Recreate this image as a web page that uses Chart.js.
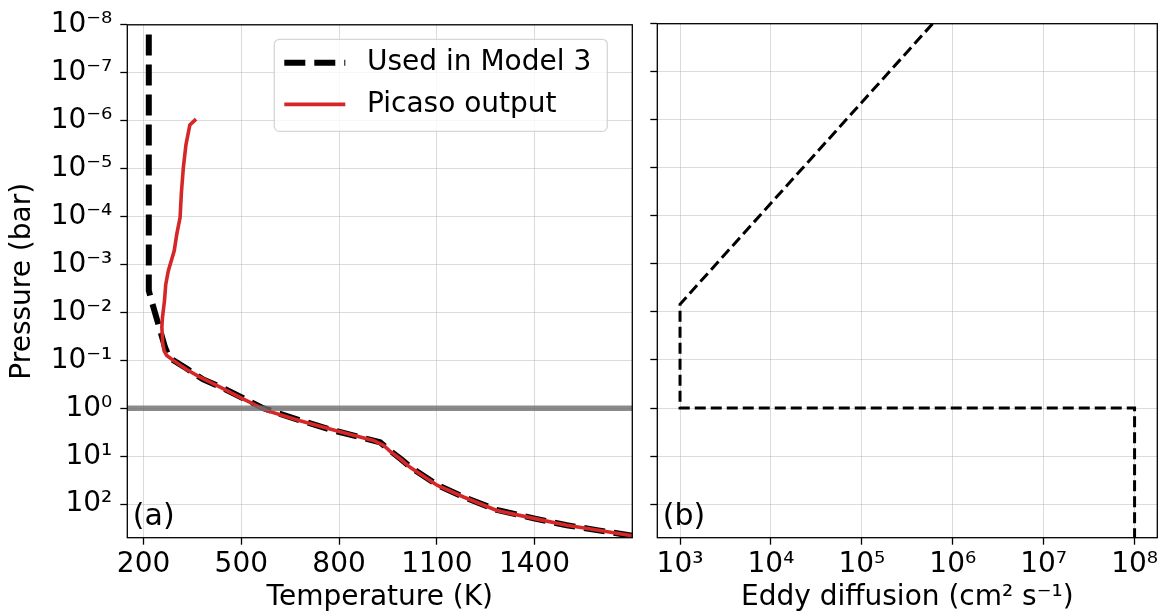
<!DOCTYPE html>
<html>
<head>
<meta charset="utf-8">
<script src="https://cdn.jsdelivr.net/npm/chart.js@4"></script>
<style>
  body { margin: 0; background: #fff; }
  #wrap { position: relative; width: 1168px; height: 615px; }
  .panel { position: absolute; top: 0; height: 615px; }
  #pa { left: 0; width: 645px; }
  #pb { left: 645px; width: 523px; }
</style>
</head>
<body>
<div id="wrap">
  <div class="panel" id="pa"><canvas id="chartTemp"></canvas></div>
  <div class="panel" id="pb"><canvas id="chartKzz"></canvas></div>
</div>
<script>
// (a) temperature profiles, pressure in bar
const modelTemp = [216, 216, 222, 266, 280, 332, 383, 435, 506, 568, 680, 782, 864, 926, 956, 990, 1018, 1102, 1182, 1284, 1401, 1499, 1591, 1700];
const modelPres = [1.6e-8, 3.5e-3, 5e-3, 0.054, 0.089, 0.148, 0.25, 0.355, 0.617, 1.0, 1.78, 2.88, 4.0, 5.13, 7.6, 11.5, 16.6, 40, 70.8, 132, 200, 275, 347, 457];
const picasoTemp = [361, 342, 330, 322, 316, 312, 302, 294, 276, 268, 264, 258, 256, 259, 263, 271, 291, 332, 373, 435, 496, 578, 680, 803, 905, 936, 956, 990, 1018, 1102, 1182, 1284, 1401, 1499, 1591, 1700];
const picasoPres = [9.3e-7, 1.23e-6, 3.2e-6, 9.5e-6, 3.2e-5, 1.05e-4, 2.3e-4, 5.2e-4, 1.35e-3, 2.6e-3, 5.8e-3, 0.0126, 0.0204, 0.0457, 0.063, 0.079, 0.1, 0.155, 0.224, 0.363, 0.589, 1.12, 1.82, 3.09, 4.68, 5.89, 7.8, 11.7, 17, 40.7, 70.8, 135, 200, 275, 347, 457];
const refPres = 1; // grey line

// (b) eddy diffusion profile
const kzzValues = [6.0e5, 1e3, 1e3, 1e8, 1e8];
const kzzPres = [1e-8, 6.9e-3, 1, 1, 1000];

const presTicks = [1e-8, 1e-7, 1e-6, 1e-5, 1e-4, 1e-3, 1e-2, 1e-1, 1, 10, 100];
const tempTicks = [200, 500, 800, 1100, 1400];
const kzzTicks = [1e3, 1e4, 1e5, 1e6, 1e7, 1e8];

const presRange = [1e-8, 500];
const tempRange = [150, 1700];
const kzzRange = [Math.pow(10, 2.75), Math.pow(10, 8.25)];

const FONT = "'DejaVu Sans', 'Liberation Sans', sans-serif";
const SUP = { "-": "⁻", "0": "⁰", "1": "¹", "2": "²", "3": "³", "4": "⁴", "5": "⁵", "6": "⁶", "7": "⁷", "8": "⁸", "9": "⁹" };
function pow10Label(v) {
  const e = Math.round(Math.log10(v));
  return "10" + String(e).split("").map((c) => SUP[c]).join("");
}
function zip(xs, ys) {
  return xs.map((x, i) => ({ x: x, y: ys[i] }));
}

const gridColor = "rgba(176,176,176,0.45)";

// black box round each plot
const frame = {
  id: "frame",
  afterDraw(chart) {
    const a = chart.chartArea;
    const ctx = chart.ctx;
    ctx.save();
    ctx.strokeStyle = "#000";
    ctx.lineWidth = 1.3;
    ctx.strokeRect(a.left, a.top, a.right - a.left, a.bottom - a.top);
    ctx.restore();
  },
};

// "(a)" / "(b)" tag
const panelTag = {
  id: "panelTag",
  afterDraw(chart, args, opts) {
    const a = chart.chartArea;
    const ctx = chart.ctx;
    ctx.save();
    ctx.font = "30px " + FONT;
    ctx.fillStyle = "#000";
    ctx.textBaseline = "middle";
    ctx.fillText(opts.text, a.left + 5.5, a.bottom - 20.5);
    ctx.restore();
  },
};

// legend box inside panel (a), upper right
const legendBox = {
  id: "legendBox",
  afterDraw(chart) {
    const a = chart.chartArea;
    const ctx = chart.ctx;
    const items = chart.data.datasets.filter((d) => d.label);
    const w = 333, h = 92;
    const x0 = a.right - 25 - w;
    const y0 = a.top + 14.5;
    ctx.save();
    ctx.beginPath();
    ctx.roundRect(x0, y0, w, h, 5);
    ctx.fillStyle = "rgba(255,255,255,0.8)";
    ctx.fill();
    ctx.strokeStyle = "rgba(204,204,204,0.8)";
    ctx.lineWidth = 1.3;
    ctx.stroke();
    ctx.font = "28px " + FONT;
    ctx.textBaseline = "middle";
    items.forEach((d, i) => {
      const y = y0 + 23.5 + i * 41.6;
      ctx.beginPath();
      ctx.setLineDash(d.borderDash || []);
      ctx.strokeStyle = d.borderColor;
      ctx.lineWidth = d.borderWidth;
      ctx.moveTo(x0 + 10, y);
      ctx.lineTo(x0 + 71, y);
      ctx.stroke();
      ctx.setLineDash([]);
      ctx.fillStyle = "#000";
      ctx.fillText(d.label, x0 + 92.7, y);
    });
    ctx.restore();
  },
};

const tickFont = { family: FONT, size: 28 };
const titleFont = { family: FONT, size: 28 };

function presAxis(showLabels, width) {
  return {
    type: "logarithmic",
    reverse: true,
    min: presRange[0],
    max: presRange[1],
    afterBuildTicks: (s) => {
      s.ticks = presTicks.map((v) => ({ value: v }));
    },
    afterFit: (s) => {
      s.width = width;
    },
    grid: { color: gridColor, lineWidth: 1, tickColor: "#000", tickWidth: 1.3, tickLength: 7 },
    border: { display: false },
    ticks: { display: showLabels, color: "#000", font: tickFont, padding: 8, callback: (v) => pow10Label(v) },
    title: {
      display: showLabels,
      text: "Pressure (bar)",
      color: "#000",
      font: titleFont,
      padding: { top: 6, bottom: 0 },
    },
  };
}

// panel (a)
new Chart(document.getElementById("chartTemp"), {
  type: "scatter",
  data: {
    datasets: [
      {
        label: "Used in Model 3",
        data: zip(modelTemp, modelPres),
        showLine: true,
        borderColor: "#000",
        borderWidth: 6,
        borderDash: [21, 9],
        pointRadius: 0,
        order: 3,
      },
      {
        label: "Picaso output",
        data: zip(picasoTemp, picasoPres),
        showLine: true,
        borderColor: "#d62728",
        borderWidth: 3.6,
        pointRadius: 0,
        order: 2,
      },
      {
        data: [{ x: tempRange[0], y: refPres }, { x: tempRange[1], y: refPres }],
        showLine: true,
        borderColor: "rgba(110,110,110,0.8)",
        borderWidth: 5.5,
        pointRadius: 0,
        order: 1,
      },
    ],
  },
  options: {
    responsive: true,
    maintainAspectRatio: false,
    animation: false,
    devicePixelRatio: 1,
    layout: { padding: { top: 23.7, right: 12.7, left: 0, bottom: 0 } },
    scales: {
      x: {
        type: "linear",
        min: tempRange[0],
        max: tempRange[1],
        afterBuildTicks: (s) => {
          s.ticks = tempTicks.map((v) => ({ value: v }));
        },
        afterFit: (s) => {
          s.height = 77.3;
        },
        grid: { color: gridColor, lineWidth: 1, tickColor: "#000", tickWidth: 1.3, tickLength: 7 },
        border: { display: false },
        ticks: { color: "#000", font: tickFont, padding: 3, maxRotation: 0, callback: (v) => String(v) },
        title: { display: true, text: "Temperature (K)", color: "#000", font: titleFont, padding: 0 },
      },
      y: presAxis(true, 127.3),
    },
    plugins: {
      legend: { display: false },
      tooltip: { enabled: false },
      panelTag: { text: "(a)" },
    },
  },
  plugins: [frame, panelTag, legendBox],
});

// panel (b)
new Chart(document.getElementById("chartKzz"), {
  type: "scatter",
  data: {
    datasets: [
      {
        data: zip(kzzValues, kzzPres),
        showLine: true,
        borderColor: "#000",
        borderWidth: 3,
        borderDash: [11, 5],
        pointRadius: 0,
      },
    ],
  },
  options: {
    responsive: true,
    maintainAspectRatio: false,
    animation: false,
    devicePixelRatio: 1,
    layout: { padding: { top: 23.7, right: 10.7, left: 0, bottom: 0 } },
    scales: {
      x: {
        type: "logarithmic",
        min: kzzRange[0],
        max: kzzRange[1],
        afterBuildTicks: (s) => {
          s.ticks = kzzTicks.map((v) => ({ value: v }));
        },
        afterFit: (s) => {
          s.height = 77.3;
        },
        grid: { color: gridColor, lineWidth: 1, tickColor: "#000", tickWidth: 1.3, tickLength: 7 },
        border: { display: false },
        ticks: { color: "#000", font: tickFont, padding: 3, maxRotation: 0, callback: (v) => pow10Label(v) },
        title: { display: true, text: "Eddy diffusion (cm² s⁻¹)", color: "#000", font: titleFont, padding: 0 },
      },
      y: presAxis(false, 12.3),
    },
    plugins: {
      legend: { display: false },
      tooltip: { enabled: false },
      panelTag: { text: "(b)" },
    },
  },
  plugins: [frame, panelTag],
});
</script>
</body>
</html>
